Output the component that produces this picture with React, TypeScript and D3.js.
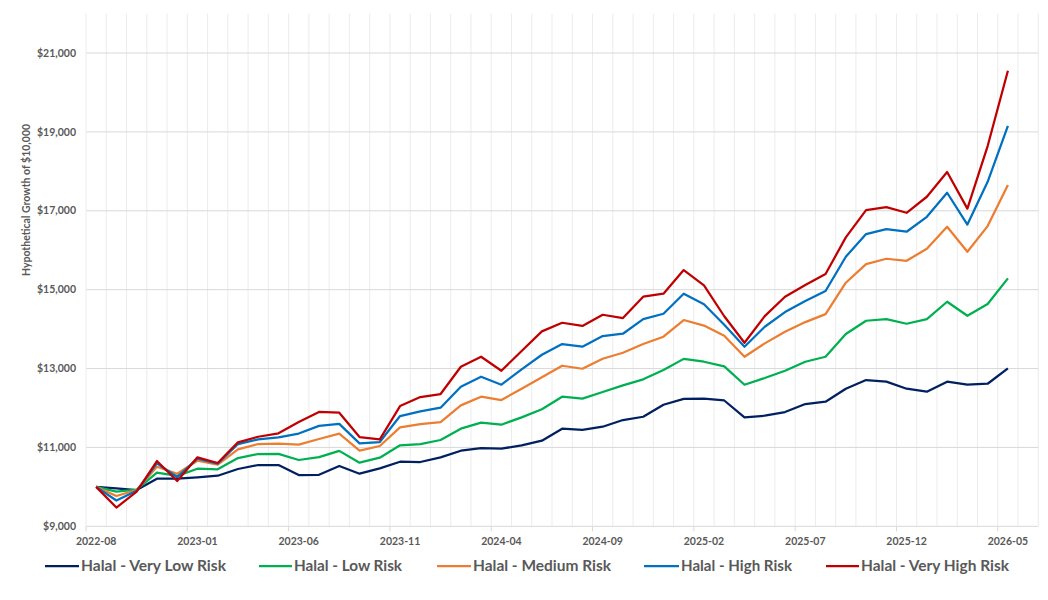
import React from "react";
import * as d3 from "d3";

// Monthly observations, 2022-08 .. 2026-05 (46 months); axis holds 47 month slots (to 2026-06)
const categoryCount = 47;
const tickLabels = ["2022-08", "2023-01", "2023-06", "2023-11", "2024-04", "2024-09", "2025-02", "2025-07", "2025-12", "2026-05"];
const tickEvery = 5;
const yTicks = [9000, 11000, 13000, 15000, 17000, 19000, 21000];

const veryLowRisk = [10000, 9960, 9920, 10207, 10210, 10242, 10283, 10453, 10554, 10554, 10300, 10305, 10530, 10334, 10470, 10638, 10630, 10749, 10917, 10985, 10968, 11053, 11170, 11475, 11445, 11525, 11694, 11778, 12083, 12230, 12236, 12190, 11763, 11804, 11897, 12100, 12159, 12489, 12709, 12667, 12489, 12413, 12667, 12590, 12615, 13005];
const lowRisk = [10000, 9877, 9930, 10359, 10280, 10460, 10445, 10731, 10833, 10837, 10681, 10753, 10913, 10613, 10740, 11053, 11086, 11188, 11475, 11627, 11576, 11763, 11966, 12286, 12236, 12404, 12574, 12727, 12962, 13245, 13173, 13055, 12590, 12759, 12945, 13173, 13299, 13875, 14212, 14255, 14136, 14255, 14694, 14339, 14635, 15287];
const mediumRisk = [10000, 9768, 9920, 10511, 10333, 10663, 10562, 10952, 11086, 11095, 11069, 11213, 11352, 10917, 11036, 11509, 11593, 11644, 12067, 12286, 12202, 12488, 12777, 13071, 12995, 13249, 13401, 13622, 13807, 14230, 14090, 13832, 13299, 13638, 13934, 14178, 14381, 15176, 15649, 15784, 15733, 16038, 16595, 15961, 16612, 17652];
const highRisk = [10000, 9654, 9900, 10596, 10250, 10714, 10587, 11086, 11205, 11256, 11352, 11547, 11597, 11104, 11137, 11796, 11915, 12007, 12539, 12792, 12590, 12980, 13350, 13622, 13553, 13824, 13883, 14255, 14389, 14897, 14632, 14110, 13553, 14060, 14432, 14711, 14965, 15835, 16410, 16537, 16469, 16848, 17457, 16651, 17736, 19155];
const veryHighRisk = [10000, 9476, 9880, 10655, 10148, 10749, 10605, 11129, 11271, 11357, 11644, 11900, 11880, 11264, 11205, 12049, 12278, 12354, 13046, 13299, 12945, 13444, 13943, 14161, 14081, 14364, 14280, 14821, 14897, 15497, 15108, 14326, 13654, 14330, 14821, 15117, 15396, 16326, 17018, 17094, 16950, 17356, 17982, 17056, 18641, 20550];

const seriesNames = ["Halal - Very Low Risk", "Halal - Low Risk", "Halal - Medium Risk", "Halal - High Risk", "Halal - Very High Risk"];
const seriesValues = [veryLowRisk, lowRisk, mediumRisk, highRisk, veryHighRisk];
const seriesColors = ["#002060", "#00B050", "#ED7D31", "#0070C0", "#C00000"];

const W = 1048, H = 600;
const plot = { left: 86, right: 1038.3, top: 13.6, bottom: 526.3 };
const legendLayout = [
  { line: 45, text: 81, width: 145 },
  { line: 259, text: 294, width: 108 },
  { line: 437, text: 473, width: 138 },
  { line: 644, text: 681, width: 111 },
  { line: 826, text: 861, width: 148 },
];

export default function App() {
  const x = d3.scaleLinear().domain([0, categoryCount]).range([plot.left, plot.right]);
  const y = d3.scaleLinear().domain([9000, 22000]).range([plot.bottom, plot.top]);
  const line = d3.line<number>().x((_, i) => x(i + 0.5)).y((v) => y(v));
  const font = "Lato, 'Open Sans', sans-serif";
  const fmt = (v: number) => "$" + d3.format(",")(v);

  return (
    <svg width={W} height={H} style={{ position: "absolute", left: 0, top: 0, background: "#fff" }}>
      {/* vertical minor gridlines at month boundaries */}
      {d3.range(1, categoryCount + 1).map((k) => (
        <line key={"v" + k} x1={x(k)} x2={x(k)} y1={plot.top} y2={plot.bottom} stroke="#ececec" strokeWidth={1} />
      ))}
      {/* horizontal major gridlines */}
      {yTicks.map((t) => (
        <line key={"h" + t} x1={plot.left} x2={plot.right} y1={y(t)} y2={y(t)} stroke="#d9d9d9" strokeWidth={1} />
      ))}
      <line x1={plot.left} x2={plot.left} y1={plot.top} y2={plot.bottom} stroke="#ececec" strokeWidth={1} />
      {/* tick marks */}
      {d3.range(0, categoryCount + 1, tickEvery).map((k) => (
        <line key={"t" + k} x1={x(k)} x2={x(k)} y1={plot.bottom} y2={plot.bottom + 5} stroke="#d9d9d9" strokeWidth={1} />
      ))}
      {/* y labels */}
      {yTicks.map((t) => (
        <text key={"yl" + t} x={76} y={y(t)} dy="0.35em" textAnchor="end" fontFamily={font} fontWeight={700} fontSize={10.5} fill="#595959">
          {fmt(t)}
        </text>
      ))}
      <text transform="translate(30,200) rotate(-90)" textAnchor="middle" fontFamily={font} fontWeight={700} fontSize={10.5} fill="#595959">
        Hypothetical Growth of $10,000
      </text>
      {/* x labels */}
      {tickLabels.map((lab, j) => (
        <text key={lab} x={x(j * tickEvery + 0.5)} y={541} dy="0.35em" textAnchor="middle" fontFamily={font} fontWeight={700} fontSize={10.5} fill="#595959">
          {lab}
        </text>
      ))}
      {/* series */}
      {seriesValues.map((vals, s) => (
        <path key={"s" + s} d={line(vals) || ""} fill="none" stroke={seriesColors[s]} strokeWidth={2.25} strokeLinejoin="round" />
      ))}
      {/* legend */}
      {seriesNames.map((name, s) => (
        <g key={"lg" + s}>
          <line x1={legendLayout[s].line} x2={legendLayout[s].text - 2} y1={566} y2={566} stroke={seriesColors[s]} strokeWidth={2.25} />
          <text x={legendLayout[s].text} y={566} dy="0.35em" fontFamily={font} fontWeight={700} fontSize={14.5} fill="#595959"
            textLength={legendLayout[s].width} lengthAdjust="spacingAndGlyphs">
            {name}
          </text>
        </g>
      ))}
    </svg>
  );
}
